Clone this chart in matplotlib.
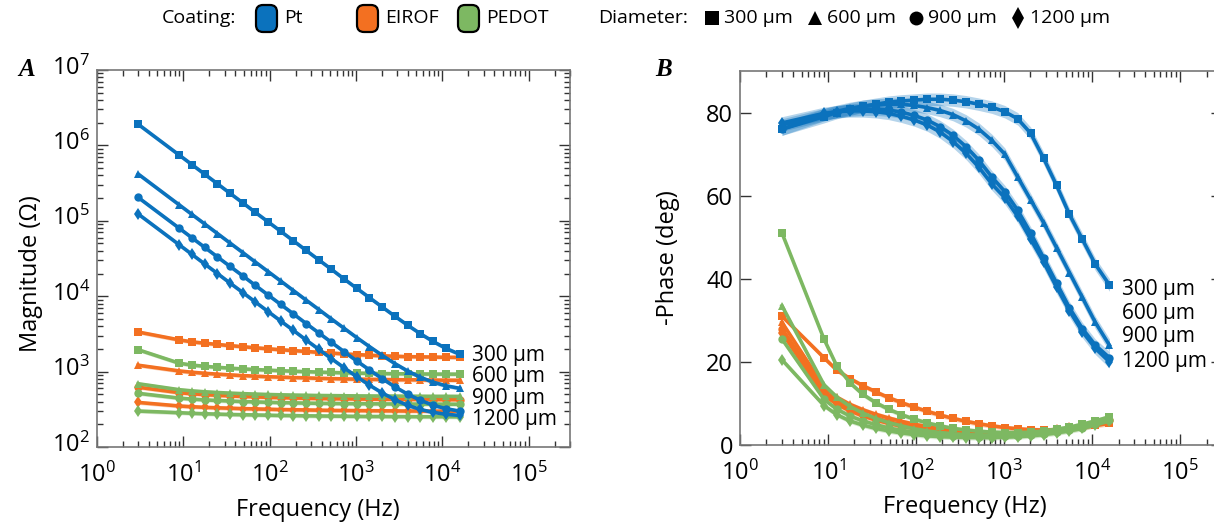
import matplotlib
matplotlib.use("Agg")
import matplotlib.pyplot as plt
from matplotlib.patches import FancyBboxPatch
from matplotlib.transforms import ScaledTranslation
from matplotlib.ticker import LogLocator, LogFormatterMathtext, MultipleLocator, NullFormatter
import numpy as np

plt.rcParams['font.family'] = ['Open Sans', 'DejaVu Sans']
plt.rcParams['mathtext.fontset'] = 'custom'
plt.rcParams['mathtext.rm'] = 'Open Sans'
plt.rcParams['mathtext.default'] = 'regular'

# measurement frequencies (Hz)
freq = [3, 9, 12.6, 17.7, 24.8, 34.8, 48.8, 68.4, 95.9, 134, 188, 264, 370, 519,
        728, 1020, 1430, 2010, 2820, 3950, 5540, 7770, 10900, 15800]

diameters = ['300 μm', '600 μm', '900 μm', '1200 μm']
markers = ['s', '^', 'o', 'd']
coatings = ['Pt', 'EIROF', 'PEDOT']
colors = {'Pt': '#0b72bd', 'EIROF': '#f37021', 'PEDOT': '#7db862'}

# impedance magnitude (ohm), one row per diameter
pt_mag = [
    [1905000, 741000, 555000, 414000, 310000, 231000, 173000, 129000, 96800, 72600, 54300, 40500,
     30300, 22700, 16900, 12700, 9556, 7180, 5415, 4130, 3185, 2515, 2040, 1700],
    [417000, 162000, 121300, 90600, 67800, 50600, 37900, 28300, 21200, 15900, 11880, 8870,
     6660, 4985, 3746, 2820, 2144, 1640, 1276, 1020, 842, 725, 650, 600],
    [204000, 79400, 59400, 44400, 33200, 24800, 18600, 13870, 10370, 7780, 5826, 4343,
     3261, 2442, 1835, 1382, 1051, 806, 627, 503, 416, 359, 323, 299],
    [123000, 47900, 35800, 26700, 20000, 14900, 11190, 8360, 6250, 4690, 3520, 2624,
     1975, 1483, 1122, 854, 661, 521, 423, 357, 315, 288, 272, 262],
]
eirof_mag = [
    [3350, 2630, 2480, 2380, 2290, 2210, 2140, 2070, 2010, 1950, 1900, 1850,
     1800, 1760, 1720, 1680, 1650, 1620, 1600, 1580, 1570, 1560, 1550, 1545],
    [1215, 1020, 980, 950, 925, 905, 885, 870, 855, 845, 835, 825,
     815, 808, 800, 795, 790, 786, 782, 779, 776, 773, 770, 768],
    [620, 525, 508, 495, 485, 476, 468, 462, 456, 451, 447, 443,
     440, 437, 435, 433, 431, 430, 429, 428, 427, 426, 425, 424],
    [390, 350, 342, 336, 331, 327, 323, 320, 317, 314, 312, 310,
     308, 306, 305, 304, 303, 302, 301, 300, 300, 299, 299, 298],
]
pedot_mag = [
    [1950, 1290, 1220, 1175, 1140, 1110, 1085, 1065, 1045, 1028, 1012, 998,
     985, 973, 963, 955, 948, 942, 937, 933, 930, 928, 926, 925],
    [690, 575, 555, 540, 528, 518, 510, 503, 497, 492, 488, 485,
     482, 480, 478, 476, 475, 474, 473, 472, 471, 470, 470, 469],
    [515, 445, 432, 422, 414, 407, 401, 396, 392, 388, 385, 382,
     380, 378, 376, 375, 374, 373, 372, 371, 371, 370, 370, 369],
    [300, 285, 280, 276, 273, 270, 268, 266, 264, 262, 261, 259,
     258, 257, 256, 255, 254, 254, 253, 253, 252, 252, 252, 251],
]

# negative phase (deg), one row per diameter
pt_phase = [
    [76, 79, 80, 80.8, 81.5, 82, 82.5, 82.8, 83, 83.2, 83.2, 83,
     82.6, 82, 81.3, 80.2, 78.5, 75, 69, 62.5, 55.5, 49.5, 43.5, 38.5],
    [77, 79.5, 80.3, 81, 81.5, 81.8, 82, 82, 81.7, 81.2, 80.5, 79.5,
     78, 76, 73.3, 70, 64.5, 59, 53.5, 47.5, 41.5, 35.5, 29.5, 24],
    [76, 79.5, 80.2, 80.6, 80.8, 80.8, 80.6, 80.1, 79.3, 78.2, 76.6, 74.5,
     71.8, 68.5, 64.5, 61, 56.5, 51, 45, 39, 33, 28, 24, 21],
    [77.5, 79.8, 80.2, 80.4, 80.4, 80.2, 79.8, 79.1, 78.2, 77, 75.3, 73,
     70.2, 66.8, 62.8, 59.5, 55, 49.5, 44, 38, 32.3, 27.3, 23.3, 20],
]
eirof_phase = [
    [31, 21, 18, 16, 14.3, 12.8, 11.4, 10.2, 9.1, 8.1, 7.2, 6.4,
     5.7, 5.1, 4.6, 4.2, 3.9, 3.7, 3.6, 3.7, 3.9, 4.3, 4.7, 5.2],
    [29.5, 14, 11.5, 9.8, 8.5, 7.4, 6.5, 5.7, 5, 4.4, 3.9, 3.5,
     3.2, 3, 2.9, 2.8, 2.8, 2.9, 3.1, 3.4, 3.8, 4.3, 4.9, 5.6],
    [28, 13, 10.5, 8.8, 7.5, 6.5, 5.6, 4.9, 4.3, 3.8, 3.4, 3.1,
     2.9, 2.7, 2.6, 2.6, 2.7, 2.8, 3.1, 3.4, 3.9, 4.4, 5.1, 5.9],
    [27, 12, 9.8, 8.2, 7, 6, 5.2, 4.5, 4, 3.5, 3.2, 2.9,
     2.7, 2.6, 2.5, 2.5, 2.6, 2.8, 3.1, 3.5, 4, 4.6, 5.3, 6.2],
]
pedot_phase = [
    [51, 25.5, 19, 15, 12.2, 10.2, 8.6, 7.3, 6.2, 5.3, 4.6, 4,
     3.6, 3.3, 3.1, 3, 3, 3.1, 3.4, 3.8, 4.3, 5, 5.8, 6.8],
    [33.5, 14.5, 11.5, 9.3, 7.7, 6.4, 5.4, 4.6, 3.9, 3.4, 3, 2.7,
     2.5, 2.4, 2.4, 2.4, 2.5, 2.7, 3, 3.4, 3.9, 4.5, 5.3, 6.3],
    [25.5, 11, 8.6, 7, 5.8, 4.9, 4.1, 3.5, 3.1, 2.7, 2.4, 2.2,
     2.1, 2, 2, 2.1, 2.2, 2.4, 2.7, 3.1, 3.6, 4.2, 5, 6],
    [20.5, 9.5, 7.3, 5.8, 4.8, 4, 3.4, 2.9, 2.5, 2.2, 2, 1.9,
     1.8, 1.8, 1.8, 1.9, 2, 2.2, 2.5, 2.9, 3.4, 4, 4.8, 5.8],
]

W, H = 1214, 527
fig = plt.figure(figsize=(W / 100, H / 100), dpi=100)


def px_axes(left, top, right, bottom):
    return fig.add_axes([left / W, 1 - bottom / H, (right - left) / W, (bottom - top) / H])


ax_a = px_axes(97, 70, 570, 447)
ax_b = px_axes(740, 71, 1222, 445)

f = np.array(freq)
for name, mags, phases in [('EIROF', eirof_mag, eirof_phase),
                           ('PEDOT', pedot_mag, pedot_phase),
                           ('Pt', pt_mag, pt_phase)]:
    c = colors[name]
    for mk, mag, ph in zip(markers, mags, phases):
        mag = np.array(mag, dtype=float)
        ph = np.array(ph, dtype=float)
        spread = 1.5 if name == 'Pt' else 0.6
        ax_a.fill_between(f, mag * 0.94, mag * 1.06, color=c, alpha=0.3, lw=0)
        ax_a.plot(f, mag, color=c, lw=2.6, marker=mk, ms=6, mew=0)
        ax_b.fill_between(f, ph - spread, ph + spread, color=c, alpha=0.3, lw=0)
        ax_b.plot(f, ph, color=c, lw=2.6, marker=mk, ms=6, mew=0)

for ax in (ax_a, ax_b):
    ax.set_xscale('log')
    ax.set_xlim(1, 3e5)
    ax.xaxis.set_major_locator(LogLocator(base=10, numticks=10))
    ax.xaxis.set_minor_locator(LogLocator(base=10, subs=np.arange(2, 10), numticks=20))
    ax.xaxis.set_major_formatter(LogFormatterMathtext())
    ax.xaxis.set_minor_formatter(NullFormatter())
    ax.tick_params(which='both', direction='in', top=True, right=True, colors='#333333',
                   labelcolor='black', labelsize=17, width=1)
    ax.tick_params(which='major', length=8, pad=5)
    ax.tick_params(which='minor', length=4)
    ax.tick_params(axis='x', which='major', pad=11)
    for sp in ax.spines.values():
        sp.set_color('#777777')
        sp.set_linewidth(1.2)
    ax.set_xlabel('Frequency (Hz)', fontsize=17)
    ax.xaxis.set_label_coords(0.467, -0.135)

ax_a.set_yscale('log')
ax_a.set_ylim(1e2, 1e7)
ax_a.yaxis.set_major_locator(LogLocator(base=10, numticks=10))
ax_a.yaxis.set_minor_locator(LogLocator(base=10, subs=np.arange(2, 10), numticks=20))
ax_a.yaxis.set_major_formatter(LogFormatterMathtext())
ax_a.yaxis.set_minor_formatter(NullFormatter())
ax_a.set_ylabel('Magnitude (Ω)', fontsize=17)
ax_a.yaxis.set_label_coords(-0.115, 0.46)
# lift the power-of-ten labels so the digits sit level with their ticks
lift = ScaledTranslation(0, 5 / 100, fig.dpi_scale_trans)
for lab in ax_a.get_yticklabels():
    lab.set_transform(lab.get_transform() + lift)

ax_b.set_ylim(0, 90)
ax_b.yaxis.set_major_locator(MultipleLocator(20))
ax_b.set_ylabel('-Phase (deg)', fontsize=17)
ax_b.yaxis.set_label_coords(-0.125, 0.5)

# diameter labels next to the curve ends
for lab, yv in zip(diameters, [1660, 850, 435, 230]):
    ax_a.text(2.2e4, yv, lab, fontsize=15, va='center', ha='left')
for lab, yv in zip(diameters, [37.3, 31.7, 26, 20.2]):
    ax_b.text(2.2e4, yv, lab, fontsize=15, va='center', ha='left')

fig.text(18 / W, 1 - 70 / H, 'A', fontsize=18, fontweight='bold', fontstyle='italic',
         family='Liberation Serif', va='center')
fig.text(655 / W, 1 - 70 / H, 'B', fontsize=18, fontweight='bold', fontstyle='italic',
         family='Liberation Serif', va='center')

# key across the top, drawn in pixel units
key = fig.add_axes([0, 1 - 40 / H, 1, 40 / H])
key.set_xlim(0, W)
key.set_ylim(40, 0)
key.axis('off')
ky = 18
key.text(236, ky, 'Coating:', fontsize=14, ha='right', va='center')
for name, x0 in zip(coatings, [256, 357, 458]):
    key.add_patch(FancyBboxPatch((x0, 5), 21, 27, boxstyle='round,pad=0,rounding_size=7',
                                 fc=colors[name], ec='black', lw=1.6))
    key.text(x0 + 28, ky, name, fontsize=14, ha='left', va='center')
key.text(598, ky, 'Diameter:', fontsize=14, ha='left', va='center')
for lab, mk, x0 in zip(diameters, markers, [712, 815, 916, 1018]):
    key.plot([x0], [ky], marker=mk, color='black', ms=10 if mk != 'd' else 11, mew=0)
    key.text(x0 + 12, ky, lab, fontsize=14, ha='left', va='center')

fig.savefig('out.png', dpi=100)
